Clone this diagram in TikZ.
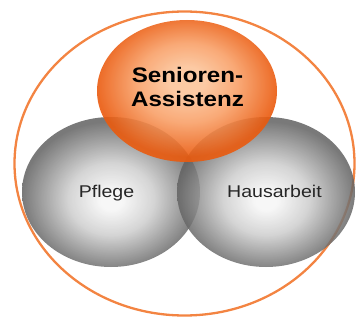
\documentclass[tikz,border=0pt]{standalone}
\usepackage{fontspec}
\setmainfont{Liberation Sans}
\newfontfamily\breitschrift[FakeStretch=1.15]{Liberation Sans}
\usepackage{tikz}
\usetikzlibrary{shapes.geometric, positioning}
\definecolor{orangerand}{RGB}{243,132,66}
\definecolor{orangehell}{RGB}{252,196,154}
\definecolor{orangemitte}{RGB}{248,160,104}
\definecolor{orangedunkel}{RGB}{234,90,14}
\definecolor{grauhell}{RGB}{246,246,246}
\definecolor{graumitte}{RGB}{205,205,205}
\definecolor{graudunkel}{RGB}{98,98,98}
\pgfdeclareradialshading{grauball}{\pgfpoint{0bp}{-3bp}}{color(0bp)=(grauhell); color(3bp)=(grauhell); color(12bp)=(graumitte); color(25bp)=(graudunkel); color(50bp)=(graudunkel)}
\pgfdeclareradialshading{orangeball}{\pgfpoint{0bp}{4bp}}{color(0bp)=(orangehell); color(5bp)=(orangehell); color(14bp)=(orangemitte); color(25bp)=(orangedunkel); color(50bp)=(orangedunkel)}
\tikzset{
  kugel/.style={ellipse, inner sep=0pt, minimum width=178pt, minimum height=150pt},
  graukugel/.style={kugel, shading=grauball, fill opacity=0.85},
  orangekugel/.style={kugel, shading=orangeball, fill opacity=0.9, minimum width=180pt, minimum height=142pt},
  rahmen/.style={ellipse, draw=orangerand, line width=2.3pt, inner sep=0pt},
  kugeltext/.style={font=\breitschrift\fontsize{17}{20}\selectfont, text=black!85}
}

\begin{document}
\begin{tikzpicture}[x=1pt, y=-1pt]
    \useasboundingbox (0,0) rectangle (358,320);

    % Grand cadre orange
    \node[rahmen, minimum width=340pt, minimum height=304pt] (cadre) at (184.5,163.5) {};

    % Boules grises
    \node[graukugel] (pflege) at (111,192) {};
    \node[graukugel] (hausarbeit) at (266,192) {};

    % Boule orange
    \node[orangekugel] (senioren) at (187,91) {};

    % Textes
    \node[kugeltext, anchor=base] (txtpflege) at (106.5,197) {Pflege};
    \node[kugeltext, anchor=base] (txthausarbeit) at (274.5,197) {Hausarbeit};
    \node[kugeltext, font=\breitschrift\bfseries\fontsize{21}{24}\selectfont, text=black, align=center, inner sep=0pt] (txtsenioren) at (187.5,86.5) {Senioren-\\Assistenz};
\end{tikzpicture}
\end{document}
